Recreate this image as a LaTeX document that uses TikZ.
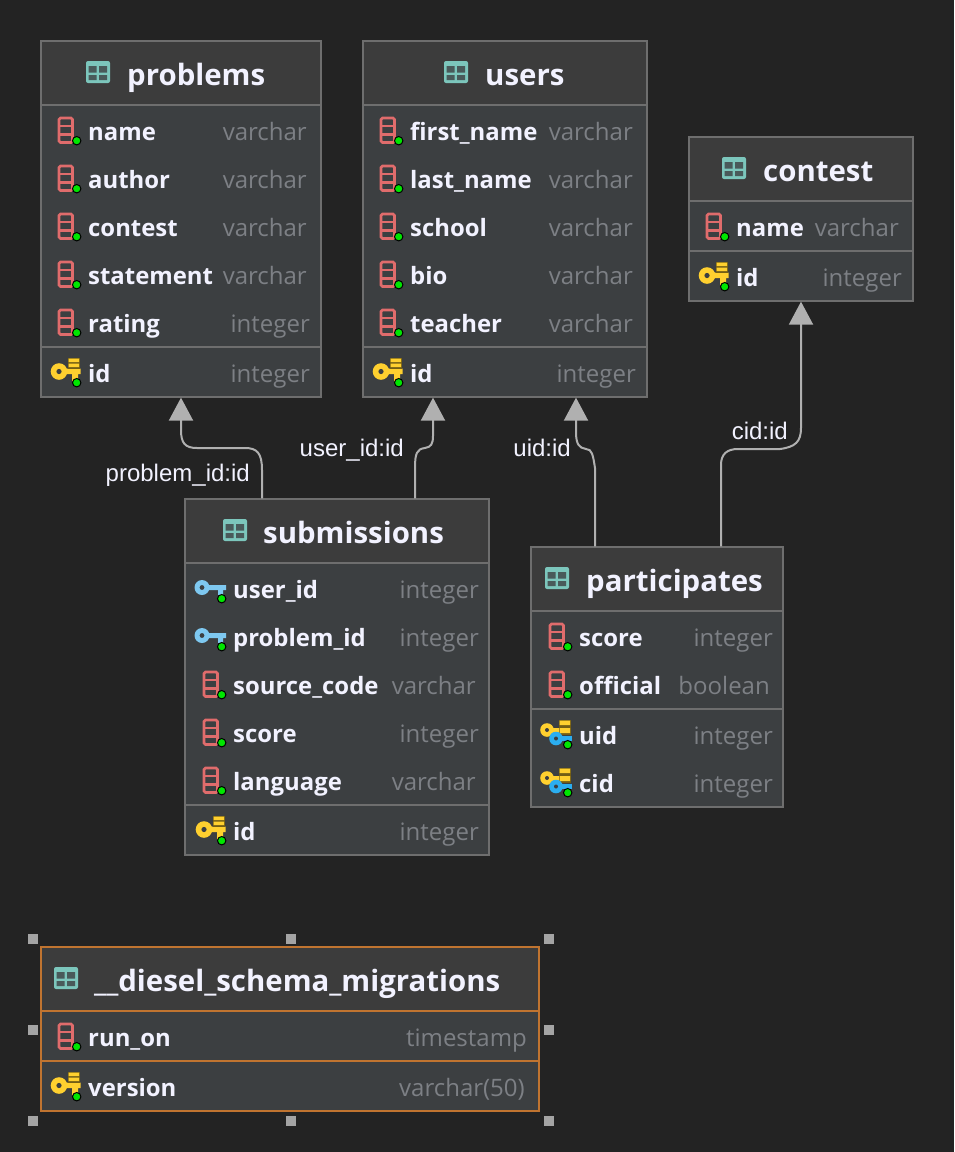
\documentclass[tikz,border=0pt]{standalone}
\usepackage{fontspec}
\setmainfont{Open Sans}
\newfontfamily\labelfont{Liberation Sans}
\usetikzlibrary{arrows.meta}
\definecolor{canvas}{HTML}{232323}
\definecolor{headfill}{HTML}{3C3C3C}
\definecolor{bodyfill}{HTML}{3C3F41}
\definecolor{edge}{HTML}{6E6E6E}
\definecolor{pick}{HTML}{C07430}
\definecolor{ink}{HTML}{F2F2FF}
\definecolor{typeink}{HTML}{7D8085}
\definecolor{linkgray}{HTML}{B0B0B0}
\definecolor{tealicon}{HTML}{7CC6BC}
\definecolor{redicon}{HTML}{E06C6C}
\definecolor{goldicon}{HTML}{FFD02F}
\definecolor{skyicon}{HTML}{7EC8F0}
\definecolor{blueicon}{HTML}{2BAEF0}
\definecolor{dot}{HTML}{00E600}
\tikzset{
    tbl/.style={draw=edge,fill=bodyfill,line width=1.3pt,inner sep=0pt},
    rowline/.style={draw=edge,line width=1.5pt},
    pickline/.style={draw=pick,line width=1.5pt},
    title/.style={anchor=base west,inner sep=0pt,text=ink,font=\fontsize{29.4}{32}\selectfont\bfseries},
    fieldname/.style={anchor=base west,inner sep=0pt,text=ink,font=\fontsize{23.9}{26}\selectfont\bfseries},
    fieldtype/.style={anchor=base east,inner sep=0pt,text=typeink,font=\fontsize{24}{26}\selectfont},
    link/.style={draw=linkgray,line width=2pt,-{Triangle[width=24pt,length=23pt,fill=linkgray]}},
    lbl/.style={inner sep=0pt,text=ink,font=\labelfont\fontsize{24}{26}\selectfont},
    handle/.style={fill=linkgray!115,inner sep=0pt,minimum size=10pt},
    greendot/.style={draw=black,fill=dot,line width=1pt},
    tableicon/.pic={
        \fill[tealicon,rounded corners=2pt] (-12,-11) rectangle (12,11);
        \fill[bodyfill!80!tealicon] (-9.5,-6) rectangle (-1.5,0.5) (1,-6) rectangle (9,0.5)
            (-9.5,3) rectangle (-1.5,8) (1,3) rectangle (9,8);
    },
    colicon/.pic={
        \draw[redicon,line width=2.6pt,rounded corners=1.5pt] (-29,-13) rectangle (-15.5,11.5);
        \draw[redicon,line width=2.3pt] (-29,-5) -- (-15.5,-5) (-29,3.5) -- (-15.5,3.5);
        \draw[greendot] (-11.3,9.7) circle (4.2);
    },
    pkicon/.pic={
        \fill[goldicon] (-29,-4.5) rectangle (-7.5,1) (-16,0) rectangle (-10,8);
        \fill[goldicon] (-29,-1.5) circle (8.3);
        \fill[bodyfill] (-29,-1.5) circle (2.6);
        \fill[goldicon!45!black] (-20.5,-15.5) rectangle (-8,-4.5);
        \fill[goldicon] (-19.5,-14.5) rectangle (-9,-11) (-19.5,-9.5) rectangle (-9,-6);
        \draw[greendot] (-11.3,9.7) circle (4.2);
    },
    fkicon/.pic={
        \fill[skyicon] (-31,-4) rectangle (-7,1) (-15,0) rectangle (-10,6);
        \fill[skyicon] (-31,-1.5) circle (7.5);
        \fill[bodyfill] (-31,-1.5) circle (2.4);
        \draw[greendot] (-11.3,9.7) circle (4.2);
    },
    pkfkicon/.pic={
        \fill[goldicon] (-32,-7.5) rectangle (-18,-2.5);
        \fill[goldicon] (-32,-5) circle (6.8);
        \fill[bodyfill] (-32,-5) circle (2);
        \fill[goldicon!45!black] (-20.5,-15.5) rectangle (-8,-0.5);
        \fill[goldicon] (-19.5,-14.5) rectangle (-9,-10) (-19.5,-7) rectangle (-9,-2);
        \fill[blueicon] (-23,1) rectangle (-7,6);
        \fill[blueicon] (-23,3.5) circle (6.8);
        \fill[bodyfill] (-23,3.5) circle (2);
        \draw[greendot] (-11.3,9.7) circle (4.2);
    },
}
% rows of one table: icon/y/name/type/right edge of type
\newcommand{\fieldrows}[3]{
    \foreach \ic/\yr/\fld/\ty/\tx [count=\i] in {#3} {
        \pic at (#2,\yr) {\ic};
        \node[fieldname] (#1-f\i) at (#2,\yr+9) {\fld};
        \node[fieldtype] (#1-t\i) at (\tx,\yr+9) {\ty};
    }
}
\begin{document}
\begin{tikzpicture}[x=1pt,y=-1pt]
    \useasboundingbox[fill=canvas] (0,0) rectangle (954,1152);

    % boxes
    \foreach \tname/\xa/\ya/\xb/\yb/\yh/\ys/\ttl/\xi/\xt in {
        problems/41/41/321/397/105/347/problems/98/127,
        users/363/41/647/397/105/347/users/456/485,
        contest/689/137/913/301/201/251/contest/734/763,
        submissions/185/499/489/855/563/805/submissions/235/263,
        participates/531/547/783/807/611/709/participates/557/586%
    } {
        \node[tbl,minimum width=\xb pt-\xa pt,minimum height=\yb pt-\ya pt] (\tname) at ({(\xa+\xb)/2},{(\ya+\yb)/2}) {};
        \fill[headfill] (\xa+1,\ya+1) rectangle (\xb-1,\yh);
        \draw[rowline] (\xa,\yh) -- (\xb,\yh);
        \draw[rowline] (\xa,\ys) -- (\xb,\ys);
        \pic at (\xi,\ya+31) {tableicon};
        \node[title] (\tname-title) at (\xt,\ya+44.6) {\ttl};
    }

    % selected table
    \node[tbl,draw=pick,minimum width=498pt,minimum height=164pt] (migrations) at (290,1029) {};
    \fill[headfill] (42,948) rectangle (538,1011);
    \draw[pickline] (41,1011) -- (539,1011);
    \draw[pickline] (41,1061) -- (539,1061);
    \pic at (66,978) {tableicon};
    \node[title] (migrations-title) at (94,991.6) {\_\_diesel\_schema\_migrations};
    \foreach \x/\y [count=\i] in {33/939,291/939,549/939,33/1030,549/1030,33/1121,291/1121,549/1121} {
        \node[handle] (h\i) at (\x,\y) {};
    }

    % fields
    \fieldrows{problems}{88}{colicon/131/name/varchar/307,colicon/179/author/varchar/307,
        colicon/227/contest/varchar/307,colicon/275/statement/varchar/307,
        colicon/323/rating/integer/310,pkicon/373/id/integer/310}
    \fieldrows{users}{410}{colicon/131/first\_name/varchar/633,colicon/179/last\_name/varchar/633,
        colicon/227/school/varchar/633,colicon/275/bio/varchar/633,
        colicon/323/teacher/varchar/633,pkicon/373/id/integer/636}
    \fieldrows{contest}{736}{colicon/227/name/varchar/899,pkicon/277/id/integer/902}
    \fieldrows{submissions}{233}{fkicon/589/user\_id/integer/479,fkicon/637/problem\_id/integer/479,
        colicon/685/source\_code/varchar/476,colicon/733/score/integer/479,
        colicon/781/language/varchar/476,pkicon/831/id/integer/479}
    \fieldrows{participates}{579}{colicon/637/score/integer/773,colicon/685/official/boolean/770,
        pkfkicon/735/uid/integer/773,pkfkicon/783/cid/integer/773}
    \fieldrows{migrations}{88}{colicon/1037/run\_on/timestamp/527,pkicon/1087/version/varchar(50)/525}

    % connectors
    \draw[link] ([xshift=-75pt]submissions.north) -- (262,470) .. controls (262,453) and (257,448) .. (245,448)
        -- (197,448) .. controls (185,448) and (181,443) .. (181,430) -- (problems.south);
    \draw[link] ([xshift=78pt]submissions.north) -- (415,468) .. controls (415,453) and (417,449) .. (425,448)
        .. controls (431,447) and (433,444) .. (433,436) -- ([xshift=-72pt]users.south);
    \draw[link] ([xshift=-62pt]participates.north) -- (595,468) .. controls (593,455) and (592,449) .. (586,449)
        .. controls (579,448) and (576,444) .. (576,432) -- ([xshift=71pt]users.south);
    \draw[link] ([xshift=64pt]participates.north) -- (721,465) .. controls (721,454) and (727,449) .. (738,449)
        -- (780,449) .. controls (795,447) and (801,442) .. (801,428) -- (contest.south);
    \node[lbl,anchor=base east] (problem-lbl) at (250,481) {problem\_id:id};
    \node[lbl,anchor=base east] (user-lbl) at (404,456) {user\_id:id};
    \node[lbl,anchor=base east] (uid-lbl) at (571,456) {uid:id};
    \node[lbl,anchor=base east] (cid-lbl) at (788,439) {cid:id};
\end{tikzpicture}
\end{document}
